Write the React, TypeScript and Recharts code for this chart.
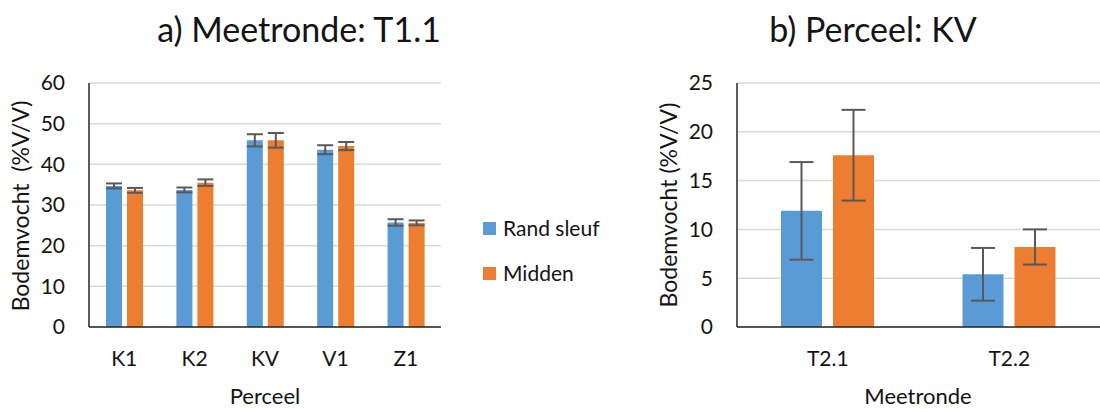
import React from 'react';
import { BarChart, Bar, XAxis, YAxis, CartesianGrid, ErrorBar } from 'recharts';

// a) Meetronde T1.1, per perceel
const perceel = ['K1', 'K2', 'KV', 'V1', 'Z1'];
const randSleufT11 = [34.7, 33.7, 45.9, 43.6, 25.7];
const randSleufErrT11 = [0.6, 0.6, 1.5, 1.1, 0.8];
const middenT11 = [33.6, 35.5, 45.9, 44.5, 25.6];
const middenErrT11 = [0.6, 0.8, 1.8, 1.0, 0.6];
const ticksT11 = [0, 10, 20, 30, 40, 50, 60];

// b) Perceel KV, per meetronde
const meetronde = ['T2.1', 'T2.2'];
const randSleufKV = [11.9, 5.4];
const randSleufErrKV = [5.0, 2.7];
const middenKV = [17.6, 8.2];
const middenErrKV = [4.65, 1.8];
const ticksKV = [0, 5, 10, 15, 20, 25];

const BLUE = '#5B9BD5';
const ORANGE = '#ED7D31';
const TEXT = '#141414';
const FONT = 'Lato, "Open Sans", sans-serif';

const dataT11 = perceel.map((name, i) => ({
  name,
  rand: randSleufT11[i],
  randErr: randSleufErrT11[i],
  midden: middenT11[i],
  middenErr: middenErrT11[i],
}));

const dataKV = meetronde.map((name, i) => ({
  name,
  rand: randSleufKV[i],
  randErr: randSleufErrKV[i],
  midden: middenKV[i],
  middenErr: middenErrKV[i],
}));

const tickStyle = { fill: TEXT, fontSize: 21, fontFamily: FONT };
const axisLine = { stroke: '#262626', strokeWidth: 1.5 };

const abs = (style: React.CSSProperties): React.CSSProperties => ({
  position: 'absolute',
  fontFamily: FONT,
  color: TEXT,
  whiteSpace: 'nowrap',
  lineHeight: 1,
  ...style,
});

function VerticalLabel({ text, x, y }: { text: string; x: number; y: number }) {
  return (
    <div
      style={abs({
        left: x,
        top: y,
        fontSize: 23,
        transform: 'translate(-50%, -50%) rotate(-90deg)',
      })}
    >
      {text}
    </div>
  );
}

export default function App() {
  return (
    <div
      style={{
        position: 'absolute',
        left: 0,
        top: 0,
        width: 1100,
        height: 409,
        background: '#fff',
        overflow: 'hidden',
      }}
    >
      {/* left panel */}
      <div style={abs({ left: 299, top: 12, fontSize: 34, transform: 'translateX(-50%)' })}>
        a) Meetronde: T1.1
      </div>
      <VerticalLabel text={'Bodemvocht\u00a0\u00a0(%V/V)'} x={20} y={206} />
      <div style={{ position: 'absolute', left: 0, top: 0 }}>
        <BarChart
          width={460}
          height={409}
          data={dataT11}
          margin={{ top: 83, right: 19, bottom: 52, left: 0 }}
          barSize={16}
          barGap={5}
        >
          <CartesianGrid vertical={false} stroke="#d9d9d9" strokeWidth={1.5} />
          <XAxis
            dataKey="name"
            height={30}
            tickLine={false}
            tickSize={0}
            tickMargin={24}
            axisLine={axisLine}
            tick={tickStyle}
          />
          <YAxis
            width={89}
            domain={[0, 60]}
            ticks={ticksT11}
            tickLine={false}
            tickSize={0}
            tickMargin={24}
            axisLine={axisLine}
            tick={tickStyle}
          />
          <Bar dataKey="rand" fill={BLUE} isAnimationActive={false}>
            <ErrorBar dataKey="randErr" width={8} stroke="#595959" strokeWidth={2} />
          </Bar>
          <Bar dataKey="midden" fill={ORANGE} isAnimationActive={false}>
            <ErrorBar dataKey="middenErr" width={8} stroke="#595959" strokeWidth={2} />
          </Bar>
        </BarChart>
      </div>
      <div style={abs({ left: 265, top: 385, fontSize: 22, transform: 'translateX(-50%)' })}>
        Perceel
      </div>

      {/* legend */}
      <div style={abs({ left: 483, top: 222, width: 13, height: 13, background: BLUE })} />
      <div style={abs({ left: 503, top: 217, fontSize: 21 })}>Rand sleuf</div>
      <div style={abs({ left: 483, top: 267, width: 13, height: 13, background: ORANGE })} />
      <div style={abs({ left: 503, top: 262, fontSize: 21 })}>Midden</div>

      {/* right panel */}
      <div style={abs({ left: 873, top: 12, fontSize: 34, transform: 'translateX(-50%)' })}>
        b) Perceel: KV
      </div>
      <VerticalLabel text="Bodemvocht (%V/V)" x={668} y={205} />
      <div style={{ position: 'absolute', left: 640, top: 0 }}>
        <BarChart
          width={460}
          height={409}
          data={dataKV}
          margin={{ top: 83, right: 0, bottom: 52, left: 0 }}
          barSize={41}
          barGap={11}
        >
          <CartesianGrid vertical={false} stroke="#d9d9d9" strokeWidth={1.5} />
          <XAxis
            dataKey="name"
            height={30}
            tickLine={false}
            tickSize={0}
            tickMargin={24}
            axisLine={axisLine}
            tick={tickStyle}
          />
          <YAxis
            width={97}
            domain={[0, 25]}
            ticks={ticksKV}
            tickLine={false}
            tickSize={0}
            tickMargin={24}
            axisLine={axisLine}
            tick={tickStyle}
          />
          <Bar dataKey="rand" fill={BLUE} isAnimationActive={false}>
            <ErrorBar dataKey="randErr" width={12} stroke="#595959" strokeWidth={2} />
          </Bar>
          <Bar dataKey="midden" fill={ORANGE} isAnimationActive={false}>
            <ErrorBar dataKey="middenErr" width={12} stroke="#595959" strokeWidth={2} />
          </Bar>
        </BarChart>
      </div>
      <div style={abs({ left: 918, top: 385, fontSize: 22, transform: 'translateX(-50%)' })}>
        Meetronde
      </div>
    </div>
  );
}
